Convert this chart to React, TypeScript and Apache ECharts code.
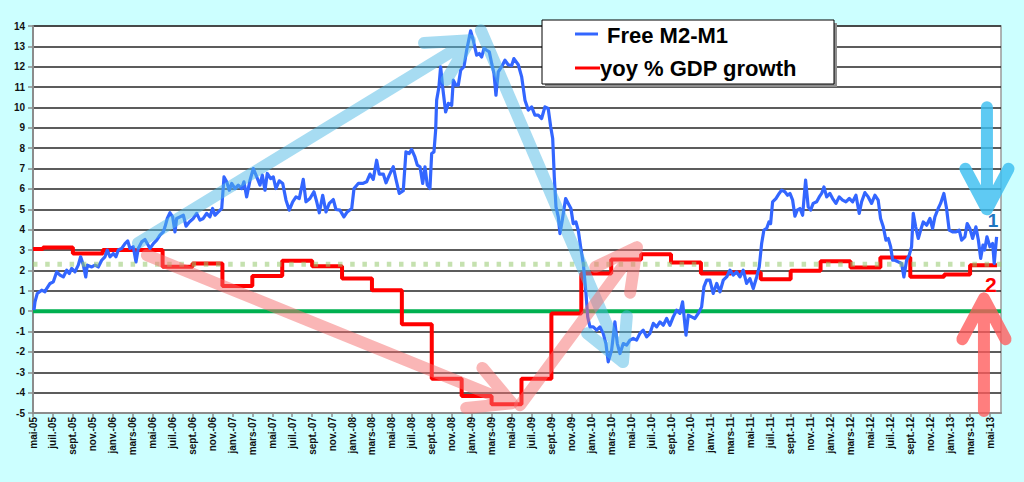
import React, { useEffect, useRef } from "react";
import * as echarts from "echarts";

// x positions are months elapsed since May 2005 (0 = mai-05)
const xTickLabels = [
  "mai-05", "juil.-05", "sept.-05", "nov.-05",
  "janv.-06", "mars-06", "mai-06", "juil.-06", "sept.-06", "nov.-06",
  "janv.-07", "mars-07", "mai-07", "juil.-07", "sept.-07", "nov.-07",
  "janv.-08", "mars-08", "mai-08", "juil.-08", "sept.-08", "nov.-08",
  "janv.-09", "mars-09", "mai-09", "juil.-09", "sept.-09", "nov.-09",
  "janv.-10", "mars-10", "mai-10", "juil.-10", "sept.-10", "nov.-10",
  "janv.-11", "mars-11", "mai-11", "juil.-11", "sept.-11", "nov.-11",
  "janv.-12", "mars-12", "mai-12", "juil.-12", "sept.-12", "nov.-12",
  "janv.-13", "mars-13", "mai-13",
];

const xMin = 0;
const xMax = 97.1;
const yMin = -5;
const yMax = 14;

// Free M2-M1 (month offset, value)
const freeM2M1: [number, number][] = [
  [0.10, 0.05], [0.20, 0.46], [0.43, 0.87], [0.87, 1.03], [1.20, 0.95], [1.37, 1.11], [1.71, 1.36], [2.04, 1.44],
  [2.38, 1.93], [2.71, 1.77], [3.04, 1.68], [3.38, 2.01], [3.64, 1.85], [3.88, 2.10], [4.21, 1.93], [4.54, 2.26],
  [4.78, 2.67], [5.05, 2.26], [5.29, 1.68], [5.45, 2.26], [5.89, 2.17], [6.22, 2.26], [6.55, 2.17], [6.89, 2.50],
  [7.22, 2.67], [7.45, 3.00], [7.72, 2.67], [8.05, 2.83], [8.32, 2.67], [8.56, 3.00], [8.90, 3.08], [9.23, 3.32],
  [9.50, 3.45], [9.73, 3.08], [10.06, 3.16], [10.33, 2.42], [10.56, 3.08], [10.90, 3.40], [11.23, 3.52], [11.46, 3.32],
  [11.74, 3.08], [12.07, 3.32], [12.41, 3.49], [12.74, 3.73], [13.07, 3.89], [13.24, 4.14], [13.47, 4.55], [13.74, 4.83],
  [14.01, 4.63], [14.24, 3.89], [14.41, 4.55], [14.74, 4.63], [15.08, 4.71], [15.35, 4.17], [15.68, 4.38], [16.08, 4.55],
  [16.42, 4.80], [16.75, 4.47], [17.08, 4.55], [17.42, 4.80], [17.75, 4.63], [18.02, 5.04], [18.25, 4.71], [18.59, 4.87],
  [18.93, 5.04], [19.16, 6.59], [19.43, 6.35], [19.69, 5.94], [19.93, 6.27], [20.26, 6.02], [20.59, 6.19], [20.93, 6.02],
  [21.16, 6.35], [21.43, 5.61], [21.77, 6.43], [22.10, 7.00], [22.44, 6.59], [22.77, 6.19], [23.00, 6.68], [23.27, 5.94],
  [23.50, 6.76], [23.84, 6.51], [24.10, 6.59], [24.37, 6.02], [24.70, 6.40], [25.05, 6.27], [25.38, 5.45], [25.71, 4.96],
  [26.05, 5.37], [26.38, 5.61], [26.71, 5.53], [27.11, 6.47], [27.38, 5.37], [27.78, 5.53], [28.18, 5.86], [28.46, 5.37],
  [28.72, 4.83], [29.06, 5.69], [29.39, 4.87], [29.72, 5.29], [30.12, 5.48], [30.39, 4.99], [30.79, 4.96], [31.19, 4.63],
  [31.52, 4.87], [31.97, 5.04], [32.20, 6.02], [32.63, 6.27], [33.07, 6.27], [33.47, 6.35], [33.80, 6.73], [34.13, 6.47],
  [34.47, 7.41], [34.73, 6.73], [35.14, 6.73], [35.41, 6.30], [35.74, 6.68], [36.14, 7.09], [36.41, 6.47], [36.74, 5.78],
  [37.14, 5.91], [37.41, 7.82], [37.74, 7.74], [37.98, 7.94], [38.31, 7.57], [38.55, 7.17], [38.82, 7.09], [39.09, 6.27],
  [39.32, 7.09], [39.55, 6.19], [39.82, 6.02], [39.99, 7.74], [40.22, 7.82], [40.39, 8.89], [40.49, 10.36], [40.72, 11.01],
  [40.89, 12.00], [41.09, 11.01], [41.39, 9.78], [41.66, 10.20], [42.00, 10.11], [42.16, 11.34], [42.43, 11.09], [42.66, 11.09],
  [42.90, 11.83], [43.23, 12.00], [43.50, 12.81], [43.90, 13.76], [44.16, 13.30], [44.50, 12.57], [44.76, 12.65], [45.01, 12.48],
  [45.24, 12.90], [45.51, 12.81], [45.77, 12.73], [46.01, 12.16], [46.24, 11.67], [46.44, 10.60], [46.67, 11.75], [47.01, 12.00],
  [47.34, 12.32], [47.67, 12.10], [48.01, 12.05], [48.24, 12.40], [48.68, 12.10], [49.02, 11.50], [49.35, 10.36], [49.68, 9.87],
  [50.02, 10.03], [50.35, 9.62], [50.68, 9.62], [51.02, 9.46], [51.35, 10.03], [51.68, 9.95], [51.93, 9.05], [52.13, 8.48],
  [52.29, 6.59], [52.46, 5.12], [52.69, 4.63], [52.86, 3.81], [53.09, 4.47], [53.43, 5.53], [53.69, 5.29], [53.96, 5.04],
  [54.19, 4.30], [54.46, 4.38], [54.69, 3.98], [54.93, 3.16], [55.20, 2.34], [55.47, 0.87], [55.64, -0.28], [55.87, -0.77],
  [56.20, -0.77], [56.54, -0.93], [56.87, -0.77], [57.20, -1.09], [57.47, -1.59], [57.70, -2.49], [58.04, -1.91], [58.37, -0.53],
  [58.61, -1.59], [58.88, -2.08], [59.21, -1.59], [59.55, -1.67], [59.88, -1.42], [60.21, -1.34], [60.55, -1.42], [60.88, -1.09],
  [61.21, -0.93], [61.55, -1.26], [61.89, -1.09], [62.22, -0.60], [62.56, -0.77], [62.89, -0.53], [63.22, -0.69], [63.56, -0.36],
  [63.89, -0.69], [64.22, -0.28], [64.56, 0.05], [64.89, -0.11], [65.16, 0.46], [65.50, -1.18], [65.73, -0.20], [66.07, -0.28],
  [66.40, -0.36], [66.73, -0.11], [67.07, 0.21], [67.30, 1.19], [67.57, 1.52], [67.90, 1.52], [68.23, 0.87], [68.58, 1.36],
  [68.91, 0.95], [69.24, 1.52], [69.58, 1.68], [69.91, 2.01], [70.24, 1.77], [70.58, 1.93], [70.91, 1.68], [71.24, 2.01],
  [71.58, 1.36], [71.91, 1.60], [72.25, 1.11], [72.59, 1.68], [72.85, 2.17], [73.09, 3.32], [73.32, 3.98], [73.59, 4.06],
  [73.82, 4.38], [73.99, 4.30], [74.19, 5.37], [74.52, 5.53], [74.85, 5.78], [75.09, 5.94], [75.42, 5.86], [75.69, 5.69],
  [75.93, 5.78], [76.20, 5.45], [76.43, 4.66], [76.66, 4.96], [76.93, 5.04], [77.20, 4.71], [77.50, 6.43], [77.76, 5.12],
  [78.00, 4.96], [78.26, 5.29], [78.61, 5.37], [78.87, 5.61], [79.11, 5.78], [79.34, 6.10], [79.61, 5.61], [79.94, 5.78],
  [80.21, 5.53], [80.54, 5.29], [80.87, 5.61], [81.21, 5.45], [81.54, 5.37], [81.88, 5.53], [82.22, 5.37], [82.55, 5.69],
  [82.88, 4.80], [83.12, 5.37], [83.45, 5.82], [83.78, 5.61], [84.12, 5.29], [84.45, 5.69], [84.78, 5.45], [85.02, 4.55],
  [85.29, 4.14], [85.56, 3.49], [85.79, 3.57], [86.03, 3.16], [86.23, 2.50], [86.46, 2.50], [86.79, 2.42], [87.13, 2.34],
  [87.36, 1.68], [87.63, 2.50], [87.89, 2.75], [88.13, 3.16], [88.30, 4.80], [88.54, 4.14], [88.80, 3.57], [89.04, 3.98],
  [89.30, 4.38], [89.64, 4.22], [89.97, 4.55], [90.24, 4.06], [90.47, 4.63], [90.80, 5.04], [91.04, 5.29], [91.37, 5.78],
  [91.64, 5.04], [91.90, 3.98], [92.24, 3.89], [92.58, 3.89], [92.91, 3.98], [93.15, 3.49], [93.48, 3.65], [93.71, 4.30],
  [93.98, 4.06], [94.25, 3.57], [94.58, 4.14], [94.83, 3.49], [95.06, 2.59], [95.29, 3.24], [95.46, 3.00], [95.69, 3.65],
  [95.99, 3.16], [96.26, 3.32], [96.42, 2.34], [96.66, 3.65],
];

// yoy % GDP growth: quarterly steps (start month of each level, value)
const gdpStartMonths = [
  0, 1, 4, 7, 10, 13, 16, 19, 22, 25, 28, 31, 34, 37, 40, 43, 46,
  49, 52, 55, 58, 61, 64, 67, 70, 73, 76, 79, 82, 85, 88, 91.4, 94,
];
const gdpValues = [
  3.05, 3.12, 2.83, 3.0, 3.0, 2.18, 2.34, 1.23, 1.73, 2.47, 2.21, 1.6, 1.03, -0.64, -3.32, -4.16, -4.57,
  -3.32, -0.11, 1.85, 2.54, 2.8, 2.39, 1.85, 1.9, 1.57, 1.98, 2.45, 2.14, 2.63, 1.69, 1.8, 2.26,
];
const gdpEndMonth = 96.7;

const zeroLevel = 0;
const referenceLevel = 2.3;
const referenceEnd = 98.5;

// annotation arrows in data space: [fromMonth, fromValue, toMonth, toValue]
const arrows = [
  { from: [10.53, 3.34], to: [43.83, 13.3], color: "rgba(80,185,230,0.5)" },
  { from: [44.93, 13.79], to: [59.18, -2.5], color: "rgba(80,185,230,0.5)" },
  { from: [11.43, 2.75], to: [48.04, -4.52], color: "rgba(245,110,110,0.5)" },
  { from: [48.85, -4.62], to: [60.58, 3.14], color: "rgba(245,110,110,0.5)" },
  { from: [95.69, 10.01], to: [95.69, 5.0], color: "rgba(60,190,240,0.82)" },
  { from: [95.39, -4.9], to: [95.39, 0.62], color: "rgba(255,90,90,0.78)" },
];
const markers = [
  { text: "1", at: [96.29, 4.47], color: "#1f75bf", size: 19 },
  { text: "2", at: [96.09, 1.3], color: "#ff0000", size: 21 },
];

const FONT = '"Liberation Sans", Arial, Helvetica, sans-serif';

export default function App() {
  const ref = useRef<HTMLDivElement>(null);

  useEffect(() => {
    if (!ref.current) return;
    const chart = echarts.init(ref.current, null, { renderer: "svg" });

    const gdpData = gdpStartMonths.map((m, i) => [m, gdpValues[i]]);
    gdpData.push([gdpEndMonth, gdpValues[gdpValues.length - 1]]);

    const option: any = {
      animation: false,
      backgroundColor: "#ccffff",
      grid: {
        left: 33, right: 23, top: 26, bottom: 69,
        show: true, backgroundColor: "#ffffff", borderColor: "#9a9a9a", borderWidth: 1.5,
        outerBoundsMode: "none",
      },
      xAxis: {
        type: "value", min: xMin, max: xMax, interval: 2,
        axisLine: { onZero: false, lineStyle: { color: "#8c8c8c", width: 2 } },
        axisTick: { show: true, length: 4, lineStyle: { color: "#8c8c8c", width: 1.5 } },
        splitLine: { show: false },
        axisLabel: {
          rotate: 90, margin: 4, fontSize: 10, fontWeight: "bold", color: "#111",
          fontFamily: FONT, showMaxLabel: false, showMinLabel: true,
          formatter: (v: number) => {
            const i = Math.round(v / 2);
            return Math.abs(v - i * 2) < 1e-6 ? xTickLabels[i] ?? "" : "";
          },
        },
      },
      yAxis: {
        type: "value", min: yMin, max: yMax, interval: 1,
        axisLine: { show: true, onZero: false, lineStyle: { color: "#8c8c8c", width: 2 } },
        axisTick: { show: true, length: 5, lineStyle: { color: "#8c8c8c", width: 1.5 } },
        splitLine: {
          show: true,
          lineStyle: { color: "#262626", width: 1.6 },
        },
        axisLabel: { margin: 8, fontSize: 10, fontWeight: "bold", color: "#111", fontFamily: FONT },
      },
      series: [
        {
          type: "line", name: "zero", data: [[xMin, zeroLevel], [xMax, zeroLevel]],
          symbol: "none", lineStyle: { color: "#00b050", width: 4 }, z: 2, silent: true,
        },
        {
          type: "line", name: "yoy % GDP growth", data: gdpData, step: "end",
          symbol: "none", lineStyle: { color: "#ff0000", width: 4 }, z: 3,
        },
        {
          type: "line", name: "Free M2-M1", data: freeM2M1,
          symbol: "none", lineStyle: { color: "#3366ff", width: 3.2, join: "round" }, z: 4,
        },
        {
          type: "line", name: "ref", data: [[xMin, referenceLevel], [referenceEnd, referenceLevel]],
          symbol: "none", clip: false, silent: true,
          lineStyle: { color: "rgba(150,200,110,0.55)", width: 5, type: [4.5, 7.7], cap: "butt" }, z: 5,
        },
      ],
    };
    chart.setOption(option);

    const toPx = (p: number[]) => chart.convertToPixel({ gridIndex: 0 }, p) as number[];
    const L = 46;
    const S = (28 * Math.PI) / 180;
    const graphics: any[] = [];
    arrows.forEach((a) => {
      const p0 = toPx(a.from);
      const p1 = toPx(a.to);
      const ang = Math.atan2(p0[1] - p1[1], p0[0] - p1[0]);
      const a1 = [p1[0] + L * Math.cos(ang + S), p1[1] + L * Math.sin(ang + S)];
      const a2 = [p1[0] + L * Math.cos(ang - S), p1[1] + L * Math.sin(ang - S)];
      graphics.push({
        type: "polyline", silent: true, z: 100,
        shape: { points: [p0, p1, a1, p1, a2] },
        style: { stroke: a.color, lineWidth: 12, fill: null, lineCap: "round", lineJoin: "round" },
      });
    });
    markers.forEach((m) => {
      const p = toPx(m.at);
      graphics.push({
        type: "text", x: p[0], y: p[1], z: 101, silent: true,
        style: {
          text: m.text, fill: m.color, font: `bold ${m.size}px ${FONT}`,
          align: "center", verticalAlign: "middle", textAlign: "center", textVerticalAlign: "middle",
        },
      });
    });
    // legend box
    graphics.push(
      { type: "rect", z: 110, silent: true, shape: { x: 545, y: 23, width: 292, height: 64 }, style: { fill: "#8f8f8f" } },
      { type: "rect", z: 111, silent: true, shape: { x: 542, y: 20, width: 292, height: 64 }, style: { fill: "#ffffff", stroke: "#000", lineWidth: 1 } },
      { type: "line", z: 112, silent: true, shape: { x1: 575, y1: 34, x2: 598, y2: 34 }, style: { stroke: "#3366ff", lineWidth: 3 } },
      { type: "line", z: 112, silent: true, shape: { x1: 575, y1: 68, x2: 600, y2: 68 }, style: { stroke: "#ff0000", lineWidth: 3 } },
      {
        type: "text", z: 112, silent: true, x: 607, y: 35,
        style: { text: "Free M2-M1", fill: "#000", font: `bold 22px ${FONT}`, verticalAlign: "middle", textVerticalAlign: "middle" },
      },
      {
        type: "text", z: 112, silent: true, x: 600, y: 68,
        style: { text: "yoy % GDP growth", fill: "#000", font: `bold 22px ${FONT}`, verticalAlign: "middle", textVerticalAlign: "middle" },
      },
    );
    chart.setOption({ graphic: { elements: graphics } });

    return () => chart.dispose();
  }, []);

  return (
    <div
      ref={ref}
      style={{ position: "fixed", left: 0, top: 0, width: 1024, height: 482 }}
    />
  );
}
